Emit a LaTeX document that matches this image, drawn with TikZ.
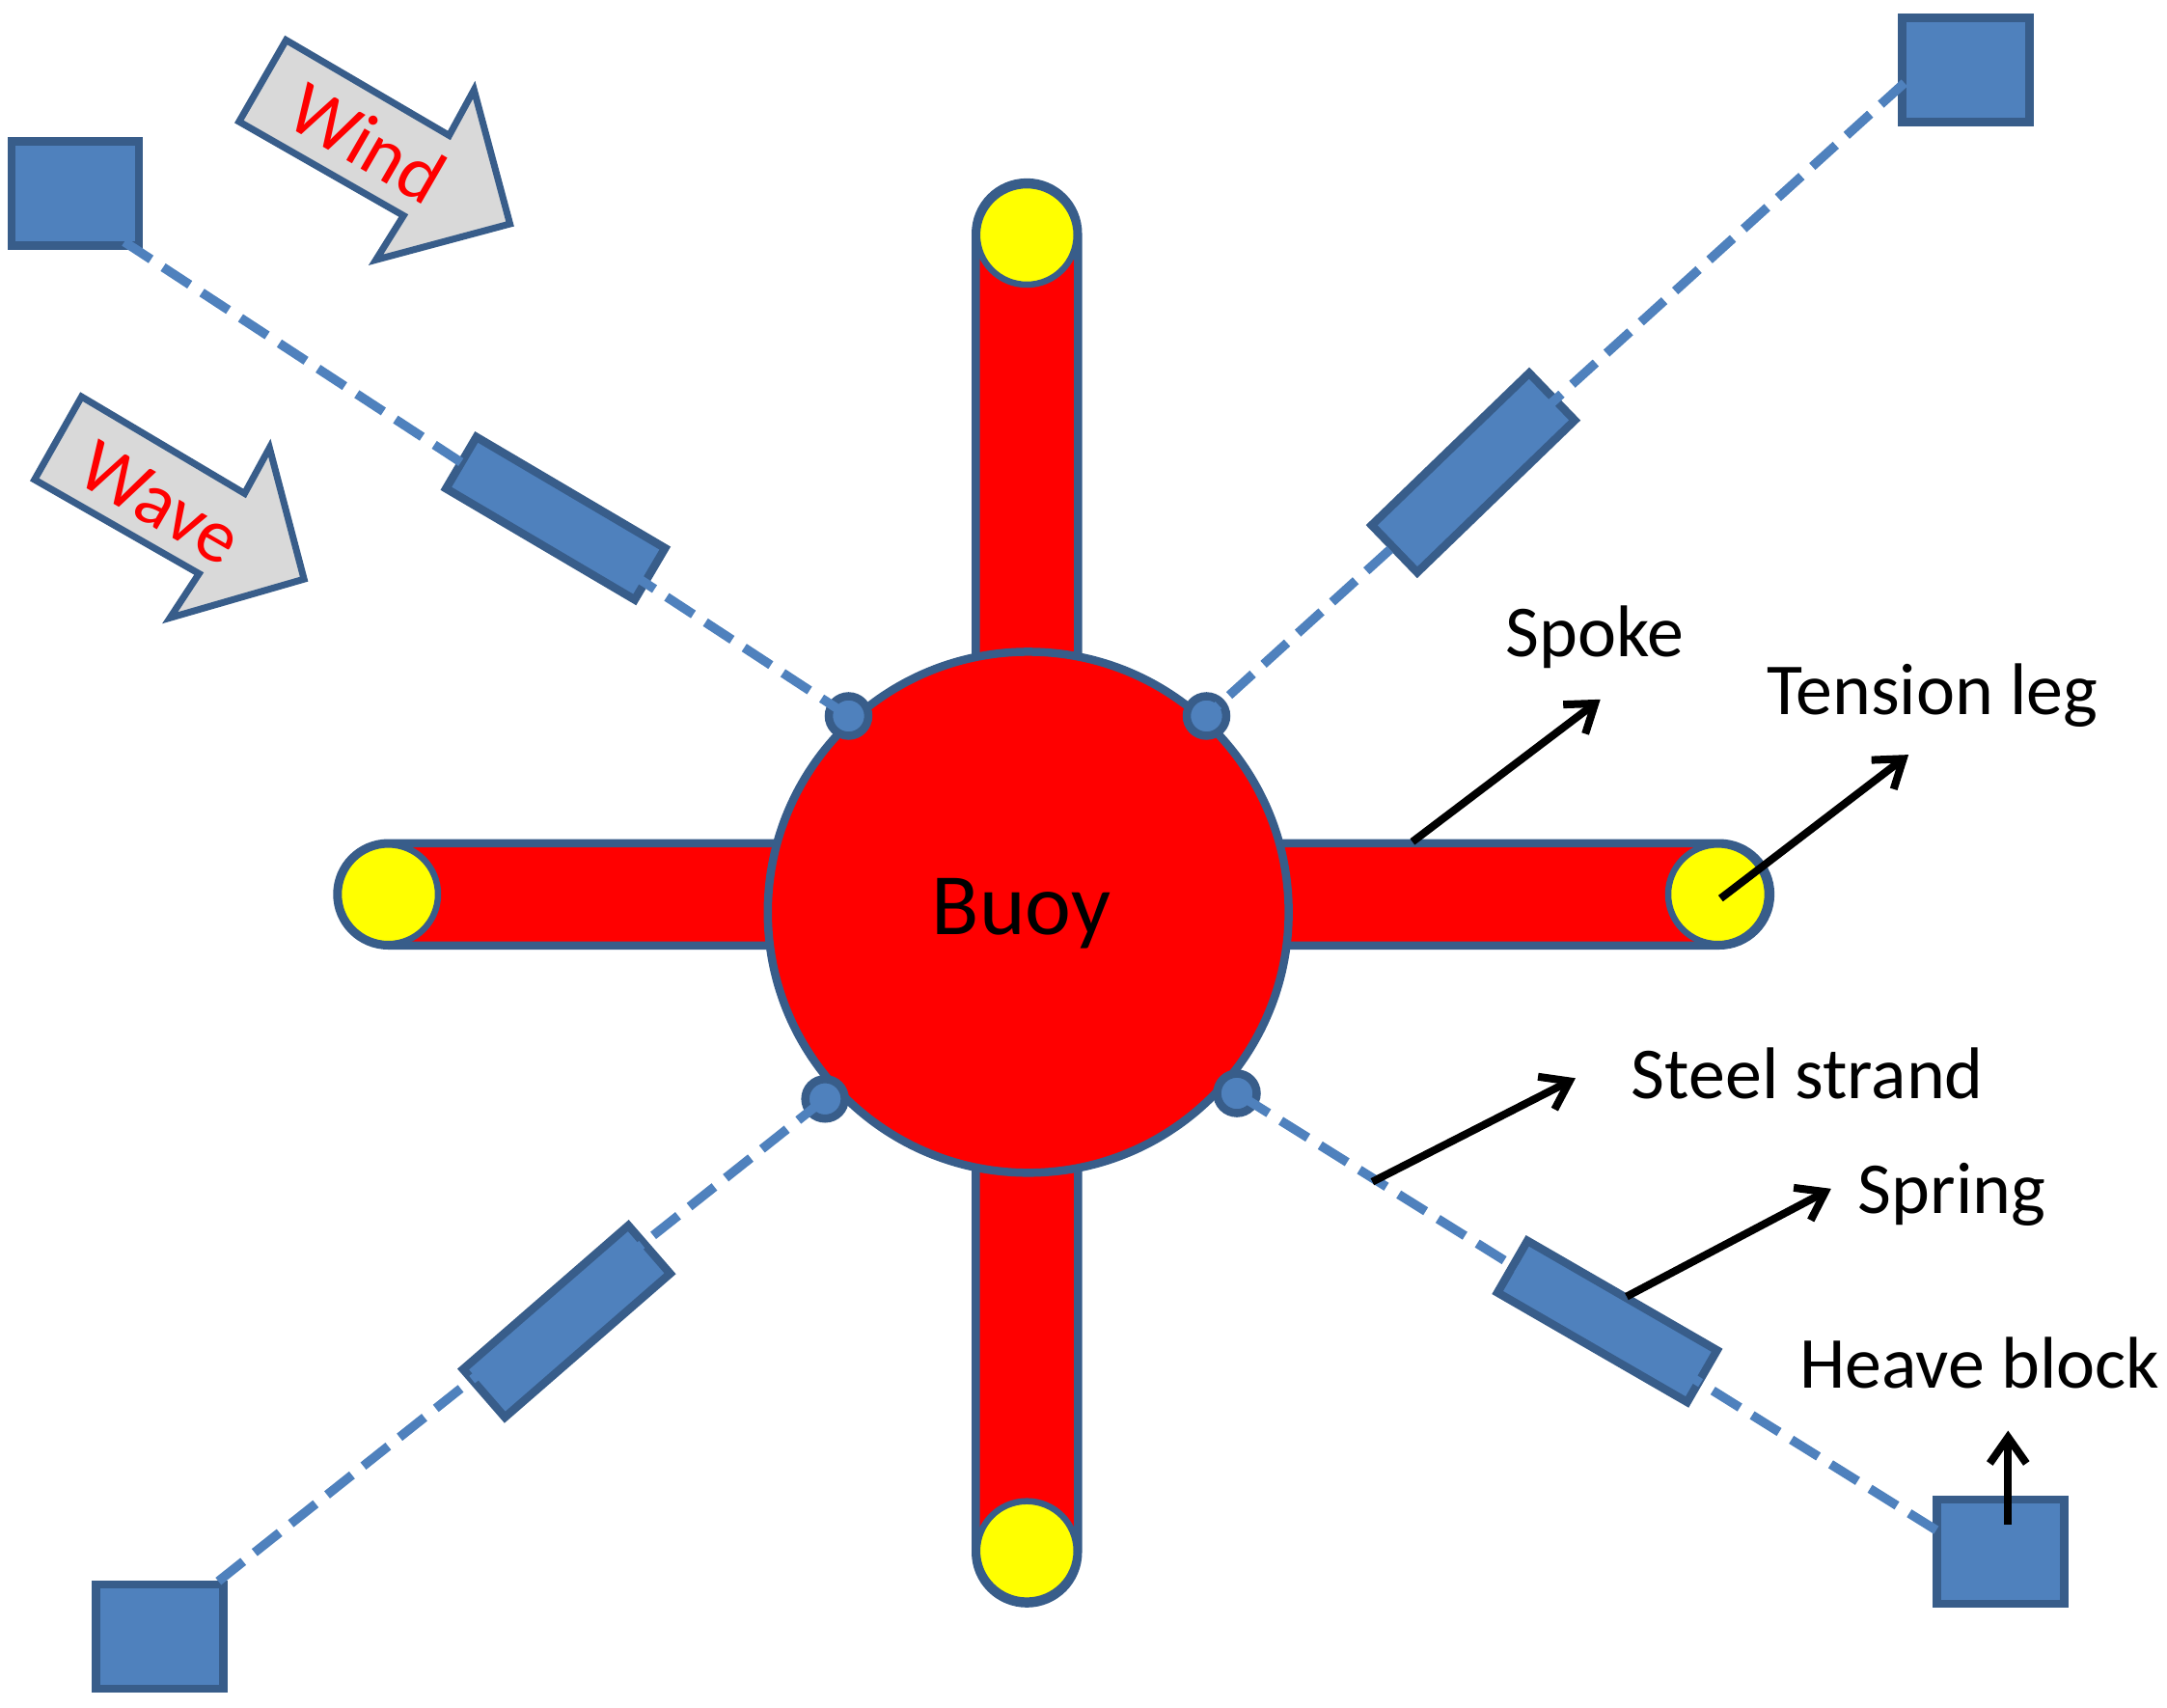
\documentclass[tikz,border=0pt]{standalone}
\usepackage{fontspec}
\setmainfont{Carlito}
\usetikzlibrary{arrows.meta}
\definecolor{bfill}{HTML}{4F81BD}
\definecolor{bline}{HTML}{385D8A}
\definecolor{agray}{HTML}{D9D9D9}
\definecolor{pureyellow}{HTML}{FFFF00}
\definecolor{purered}{HTML}{FF0000}
\tikzset{
  px/.style={x=0.014324cm,y=-0.014324cm},
  spoke/.style={draw=bline,fill=purered,line width=0.085cm,rounded corners=0.53cm},
  buoy/.style={circle,draw=bline,fill=purered,line width=0.085cm,minimum size=5.4cm,inner sep=0pt},
  legend/.style={circle,draw=bline,fill=pureyellow,line width=0.065cm,minimum size=1.03cm,inner sep=0pt},
  joint/.style={circle,draw=bline,fill=bfill,line width=0.085cm,minimum size=0.41cm,inner sep=0pt},
  block/.style={rectangle,draw=bline,fill=bfill,line width=0.085cm,minimum width=1.32cm,minimum height=1.08cm,inner sep=0pt},
  springbox/.style={rectangle,draw=bline,fill=bfill,line width=0.085cm,minimum width=2.27cm,minimum height=0.62cm,inner sep=0pt},
  tether/.style={draw=bfill,line width=0.095cm,dash pattern=on 0.33cm off 0.15cm},
  flow/.style={draw=bline,fill=agray,line width=0.07cm,miter limit=10},
  flowtext/.style={text=purered,font=\fontsize{22.5}{27}\selectfont,inner sep=0pt},
  lab/.style={text=black,font=\fontsize{21.6}{26}\selectfont,inner sep=0pt},
  buoytext/.style={text=black,font=\fontsize{25.8}{31}\selectfont,inner sep=0pt},
  pointer/.style={draw=black,line width=0.08cm,-{Straight Barb[length=0.27cm,width=0.38cm,line width=0.08cm]}},
}
\begin{document}
\begin{tikzpicture}[px]
\useasboundingbox (0,0) rectangle (1568,1235);
% spokes
\draw[spoke] (706,132) rectangle (780,1160);
\draw[spoke] (244,610) rectangle (1281,684);
\node[legend] (ytop) at (743,170) {};
\node[legend] (ybot) at (743,1122) {};
\node[legend] (yleft) at (281,647) {};
\node[legend] (yright) at (1243,647) {};
% buoy
\node[buoy] (buoy) at (744,660) {};
\node[buoytext,anchor=base] (buoylabel) at (739,676) {Buoy};
% joints
\node[joint] (jtl) at (614,518) {};
\node[joint] (jtr) at (873,518) {};
\node[joint] (jbl) at (597,795) {};
\node[joint] (jbr) at (895,791) {};
% blocks
\node[block] (btl) at (54.5,140) {};
\node[block] (btr) at (1422.5,50.5) {};
\node[block] (bbl) at (115.5,1184) {};
\node[block] (bbr) at (1447.5,1122.5) {};
% springs
\node[springbox,rotate=-30.5] (stl) at (402,375) {};
\node[springbox,rotate=44,minimum height=0.68cm] (str) at (1066,342) {};
\node[springbox,rotate=41,minimum height=0.66cm] (sbl) at (410,956) {};
\node[springbox,rotate=-30] (sbr) at (1163,956) {};
% tethers
\coordinate (etl) at (90,175);
\coordinate (etr) at (1378,60);
\coordinate (ebl) at (158,1144);
\coordinate (ebr) at (1401,1107);
\draw[tether] (etl) -- (jtl.center);
\draw[tether] (etr) -- (jtr.center);
\draw[tether] (ebl) -- (jbl.center);
\draw[tether] (ebr) -- (jbr.center);
% wind / wave
\draw[flow] (207,29) -- (325,98) -- (343,65) -- (369,162) -- (272,188) -- (292,156) -- (173,88) -- cycle;
\draw[flow] (59,287) -- (177,357) -- (195,324) -- (220,419) -- (123,447) -- (144,415) -- (25,347) -- cycle;
\node[flowtext,rotate=-30] (wind) at (266,103) {Wind};
\node[flowtext,rotate=-30] (wave) at (116,364) {Wave};
% labels
\node[lab,anchor=base west] (lspoke) at (1089,475) {Spoke};
\node[lab,anchor=base west] (ltens) at (1278,517) {Tension leg};
\node[lab,anchor=base west] (lsteel) at (1180,795) {Steel strand};
\node[lab,anchor=base west] (lspring) at (1344,878) {Spring};
\node[lab,anchor=base west] (lheave) at (1302,1004) {Heave block};
% pointers
\coordinate (pspoke) at (1022,609);
\coordinate (ptens) at (1245,650);
\coordinate (psteel) at (993,855);
\coordinate (pspring) at (1177,938);
\coordinate (pheave) at (1453,1103);
\coordinate (aspoke) at (1158,506);
\coordinate (atens) at (1381,546);
\coordinate (asteel) at (1140,780);
\coordinate (aspring) at (1325,860);
\coordinate (aheave) at (1453,1035);
\draw[pointer] (pspoke) -- (aspoke);
\draw[pointer] (ptens) -- (atens);
\draw[pointer] (psteel) -- (asteel);
\draw[pointer] (pspring) -- (aspring);
\draw[pointer] (pheave) -- (aheave);
\end{tikzpicture}
\end{document}
